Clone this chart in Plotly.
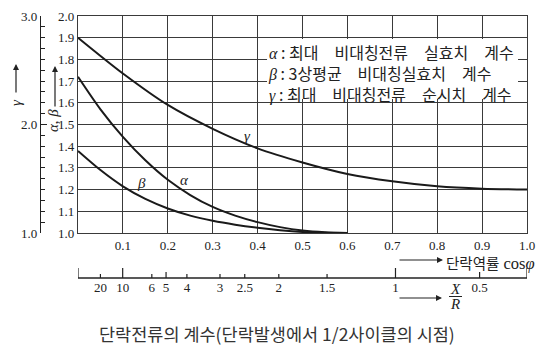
import numpy as np
import plotly.graph_objects as go

# ---------------- data ----------------
cos_x = [0.0, 0.05, 0.1, 0.15, 0.2, 0.25, 0.3, 0.35, 0.4, 0.45, 0.5, 0.55, 0.6]
alpha = [1.72, 1.57, 1.443, 1.335, 1.245, 1.175, 1.12, 1.08, 1.05, 1.027, 1.011, 1.003, 1.0]
beta = [1.378, 1.29, 1.215, 1.157, 1.113, 1.08, 1.056, 1.038, 1.024, 1.013, 1.005, 1.001, 1.0]

gamma_x = [0.0, 0.1, 0.2, 0.3, 0.4, 0.5, 0.6, 0.7, 0.8, 0.9, 1.0]
gamma = [2.8, 2.47, 2.18, 1.96, 1.78, 1.65, 1.544, 1.476, 1.43, 1.408, 1.4]

cos_ticks = [0.0, 0.1, 0.2, 0.3, 0.4, 0.5, 0.6, 0.7, 0.8, 0.9, 1.0]
cos_labels = ["", "0.1", "0.2", "0.3", "0.4", "0.5", "0.6", "0.7", "0.8", "0.9", "1.0"]
ab_ticks = [1.0, 1.1, 1.2, 1.3, 1.4, 1.5, 1.6, 1.7, 1.8, 1.9, 2.0]
g_ticks = [1.0, 2.0, 3.0]

# X/R scale (X/R = inf at cos=0 and X/R = 0 at cos=1 are the scale ends)
xr_labels = [20, 10, 6, 5, 4, 3, 2.5, 2, 1.5, 1, 0.5]
xr_long = [np.inf, 10, 1, 0]
xr_mid = [5, 0.5]
xr_short = [20, 6, 4, 3, 2.5, 2, 1.5]

G = "\u3000"
legend_lines = [
    ("α", "최대" + G + "비대칭전류" + G + "실효치" + G + "계수"),
    ("β", "3상평균" + G + "비대칭실효치" + G + "계수"),
    ("γ", "최대" + G + "비대칭전류" + G + "순시치" + G + "계수"),
]
caption = "단락전류의 계수(단락발생에서 1/2사이클의 시점)"
x_title = "단락역률"

# ---------------- layout helpers ----------------
W, H = 554, 359
ML, MR, MT, MB = 10, 27, 16, 20
PW, PH = W - ML - MR, H - MT - MB


def px(x):
    return (x - ML) / PW


def py(y):
    return (H - MB - y) / PH


def xr_to_cos(r):
    return [float(v) for v in 1.0 / np.sqrt(1.0 + np.asarray(r, dtype=float) ** 2)]


INK = "#222222"
GRID = "#3a3a3a"
SERIF = "Liberation Serif"
KR = "Noto Sans CJK KR"

fig = go.Figure()
line_style = dict(color="#1a1a1a", width=2, shape="spline", smoothing=0.8)
fig.add_trace(go.Scatter(x=cos_x, y=alpha, mode="lines", line=line_style, showlegend=False, name="α"))
fig.add_trace(go.Scatter(x=cos_x, y=beta, mode="lines", line=line_style, showlegend=False, name="β"))
fig.add_trace(go.Scatter(x=gamma_x, y=gamma, mode="lines", line=line_style, yaxis="y2",
                         showlegend=False, name="γ"))
# placeholder so the X/R label axis is drawn
fig.add_trace(go.Scatter(x=[None], y=[None], xaxis="x2", yaxis="y3", mode="markers",
                         showlegend=False, hoverinfo="skip"))

x_dom = [px(78), 1.0]
y_dom = [py(233), 1.0]
tickfont = dict(family=SERIF, size=13, color=INK)

fig.update_layout(
    width=W, height=H,
    margin=dict(l=ML, r=MR, t=MT, b=MB),
    paper_bgcolor="white", plot_bgcolor="rgba(0,0,0,0)",
    showlegend=False,
    xaxis=dict(domain=x_dom, range=[0, 1], tickmode="array", tickvals=cos_ticks, ticktext=cos_labels,
               showgrid=True, gridcolor=GRID, gridwidth=1, zeroline=False,
               showline=True, linecolor=GRID, linewidth=1.2, mirror=True, ticks="",
               tickfont=tickfont),
    yaxis=dict(domain=y_dom, range=[1, 2], tickmode="array", tickvals=ab_ticks,
               ticktext=[f"{v:.1f}" for v in ab_ticks],
               showgrid=True, gridcolor=GRID, gridwidth=1, zeroline=False,
               showline=True, linecolor=GRID, linewidth=1.2, mirror=True, ticks="",
               tickfont=tickfont),
    yaxis2=dict(domain=y_dom, range=[1, 3], overlaying="y", anchor="free", position=px(40), side="left",
                tickmode="array", tickvals=g_ticks, ticktext=[f"{v:.1f}" for v in g_ticks],
                ticks="inside", ticklen=6, tickcolor=INK, showgrid=False, zeroline=False,
                showline=True, linecolor=INK, linewidth=1.2,
                minor=dict(dtick=0.1, ticks="inside", ticklen=4, tickcolor=INK, showgrid=False),
                tickfont=tickfont),
    yaxis3=dict(domain=[py(278), py(268)], range=[0, 1], visible=False, anchor="x2"),
    xaxis2=dict(domain=x_dom, range=[0, 1], anchor="y3", side="bottom", showgrid=False, zeroline=False,
                showline=False, ticks="", tickmode="array", tickvals=xr_to_cos(xr_labels),
                ticktext=[str(v) for v in xr_labels], tickfont=tickfont),
)

# X/R scale line and tick marks, placed through the cos-phi axis
base = py(278)
ends = xr_to_cos([xr_long[0], xr_long[-1]])
fig.add_shape(type="line", xref="x", yref="paper", x0=ends[0], x1=ends[1], y0=base, y1=base,
              line=dict(color=INK, width=1.3), layer="above")
for vals, tick_px in [(xr_long, 10), (xr_mid, 6), (xr_short, 4)]:
    for c in xr_to_cos(vals):
        fig.add_shape(type="line", xref="x", yref="paper", x0=c, x1=c, y0=base, y1=base + tick_px / PH,
                      line=dict(color=INK, width=1.2), layer="above")

# legend background box
fig.add_shape(type="rect", xref="x", yref="y", x0=0.421, x1=0.98, y0=1.617, y1=1.894,
              fillcolor="white", line=dict(width=0), layer="above")

ann = []
greek_span = '<span style="font-family:Liberation Serif;font-style:italic;font-size:16px">{}</span>'
legend_text = "<br>".join(greek_span.format(g) + " : " + t for g, t in legend_lines)
ann.append(dict(xref="paper", yref="paper", x=px(267), y=py(72.8), xanchor="left", yanchor="middle",
                align="left", text=legend_text, showarrow=False, borderpad=0,
                font=dict(family=KR, size=16, color=INK)))

# curve labels
for g, cx, cy in [("γ", 0.378, 1.445), ("α", 0.238, 1.245), ("β", 0.142, 1.232)]:
    ann.append(dict(xref="x", yref="y", x=cx, y=cy, xanchor="center", yanchor="middle",
                    text=f"<i>{g}</i>", showarrow=False,
                    font=dict(family=SERIF, size=15, color=INK)))

# axis name labels (rotated) with arrows
ann.append(dict(xref="paper", yref="paper", x=px(16), y=py(103), xanchor="center", yanchor="middle",
                text="<i>γ</i>", textangle=-90,
                showarrow=False, font=dict(family=SERIF, size=15, color=INK)))
ann.append(dict(xref="paper", yref="paper", x=px(16), y=py(64), ax=0, ay=30, text="", showarrow=True,
                arrowhead=2, arrowsize=1, arrowwidth=1.2, arrowcolor=INK))
ann.append(dict(xref="paper", yref="paper", x=px(53), y=py(121), xanchor="center", yanchor="middle",
                text="<i>α</i>, <i>β</i>", textangle=-90,
                showarrow=False, font=dict(family=SERIF, size=15, color=INK)))
ann.append(dict(xref="paper", yref="paper", x=px(55), y=py(66), ax=0, ay=42, text="", showarrow=True,
                arrowhead=2, arrowsize=1, arrowwidth=1.2, arrowcolor=INK))

# cos phi label
ann.append(dict(xref="paper", yref="paper", x=px(443), y=py(260), ax=-45, ay=0, text="", showarrow=True,
                arrowhead=2, arrowsize=1, arrowwidth=1.2, arrowcolor=INK))
ann.append(dict(xref="paper", yref="paper", x=px(445), y=py(262), xanchor="left", yanchor="middle",
                text=x_title + '<span style="font-family:Liberation Serif;font-size:16.5px"> cos<i>φ</i></span>',
                showarrow=False, borderpad=0, font=dict(family=KR, size=14.5, color=INK)))

# X/R label
ann.append(dict(xref="paper", yref="paper", x=px(442), y=py(298), ax=-44, ay=0, text="", showarrow=True,
                arrowhead=2, arrowsize=1, arrowwidth=1.2, arrowcolor=INK))
ann.append(dict(xref="paper", yref="paper", x=px(455), y=py(289), xanchor="center", yanchor="middle",
                text="<i>X</i>", showarrow=False,
                font=dict(family=SERIF, size=15, color=INK)))
ann.append(dict(xref="paper", yref="paper", x=px(455), y=py(304), xanchor="center", yanchor="middle",
                text="<i>R</i>", showarrow=False,
                font=dict(family=SERIF, size=15, color=INK)))
fig.add_shape(type="line", xref="paper", yref="paper", x0=px(449), x1=px(462), y0=py(296.5), y1=py(296.5),
              line=dict(color=INK, width=1))

# caption
ann.append(dict(xref="paper", yref="paper", x=px(277), y=py(333), xanchor="center", yanchor="middle",
                text=caption, showarrow=False,
                font=dict(family=KR, size=17.5, color="#333333")))

fig.update_layout(annotations=ann)
fig.write_html("out.html")
